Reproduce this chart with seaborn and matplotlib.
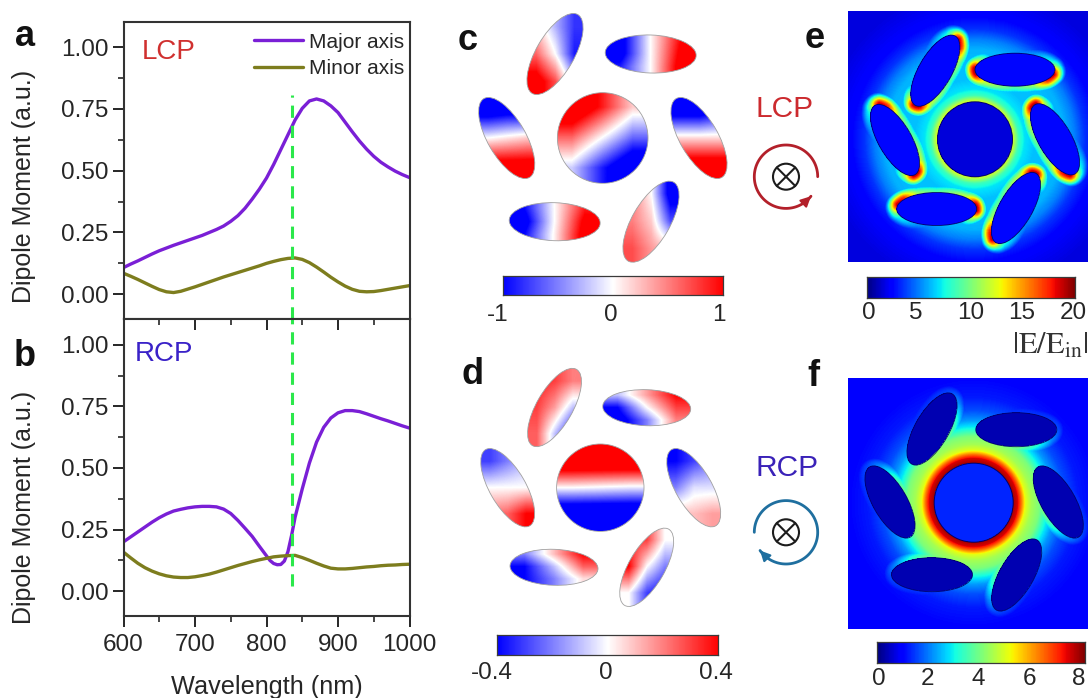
import numpy as np
import pandas as pd
import matplotlib
matplotlib.use("Agg")
import matplotlib.pyplot as plt
from matplotlib.patches import Ellipse, Circle
import seaborn as sns

# panel a, b curves, one value every 10 nm
wl = list(range(600, 1001, 10))
a_major = [.108, .122, .135, .149, .163, .176, .187, .198, .208, .218, .228, .238, .250, .262, .276, .295, .318, .348, .385, .425, .470,
           .525, .585, .645, .705, .752, .782, .790, .782, .762, .735, .696, .657, .620, .587, .558, .534, .515, .498, .484, .472]
a_minor = [.085, .073, .060, .046, .032, .019, .010, .007, .012, .021, .030, .040, .050, .060, .070, .079, .088, .097, .106, .115, .125,
           .133, .140, .145, .147, .141, .128, .110, .090, .069, .050, .033, .020, .012, .010, .011, .015, .020, .025, .030, .035]
wl_b_major = [600, 610, 620, 630, 640, 650, 660, 670, 680, 690, 700, 710, 720, 730, 740, 750, 760, 770, 780, 790, 800, 805, 810, 815, 820,
              825, 830, 835, 840, 850, 860, 870, 880, 890, 900, 910, 920, 930, 940, 950, 960, 970, 980, 990, 1000]
b_major = [.200, .220, .240, .260, .280, .298, .313, .325, .332, .338, .342, .344, .344, .342, .333, .315, .287, .255, .222, .182, .143, .124, .112, .107, .108,
           .122, .160, .225, .300, .415, .520, .605, .665, .703, .724, .733, .733, .729, .720, .710, .700, .691, .681, .671, .662]
b_minor = [.158, .135, .113, .095, .081, .070, .062, .057, .055, .055, .058, .063, .069, .077, .086, .095, .104, .112, .120, .127, .133,
           .139, .142, .144, .145, .136, .125, .113, .102, .093, .090, .090, .092, .095, .098, .100, .103, .105, .106, .108, .109]

marker_wl = 835

# surface charge maps, coarse value grids (rows top to bottom)
c_circle = [[1.5, 0.9, 0.2], [0.6, 0.0, -0.6], [-0.2, -0.9, -1.5]]
c_tl = [[0.2, -0.3, -0.8], [0.6, 0.0, -0.9], [1.2, 0.7, -0.3]]
c_tr = [[-1.2, 0.0, 1.0], [-1.2, 0.0, 1.1], [-0.9, 0.0, 1.2]]
c_r = [[-1.3, -1.3, -1.0], [0.15, 0.15, 0.15], [1.3, 1.3, 1.3]]
c_l = [[-1.3, -1.2, -1.2], [0.0, 0.1, 0.2], [1.2, 1.2, 1.2]]
c_bl = [[-1.0, 0.0, 0.9], [-1.2, 0.0, 1.1], [-1.0, 0.05, 1.2]]
c_br = [[0.5, 0.0, -1.2], [0.5, 0.2, -0.7], [0.7, 0.4, 0.2]]

d_circle = [[0.7, 0.7, 0.7], [0.02, 0.0, -0.02], [-0.7, -0.7, -0.7]]
d_tl = [[0.35, 0.3, 0.2], [0.3, 0.15, -0.1], [0.25, -0.1, -0.4]]
d_tr = [[-0.1, 0.15, 0.4], [-0.4, 0.0, 0.3], [-0.5, -0.2, 0.2]]
d_r = [[-0.4, -0.3, -0.2], [-0.2, -0.05, -0.05], [0.1, 0.1, 0.15]]
d_l = [[-0.3, -0.2, -0.1], [0.0, 0.0, 0.0], [0.2, 0.25, 0.4]]
d_bl = [[-0.2, 0.1, 0.4], [-0.4, -0.1, 0.25], [-0.4, -0.2, 0.05]]
d_br = [[0.3, 0.3, 0.0], [0.4, 0.0, -0.2], [0.0, -0.3, -0.4]]

# near field maps: value on the rim of an ellipse (by angle) and around the disk (by radius)
rim_deg = [0, 20, 60, 90, 130, 160, 175, 195, 220, 270, 300, 325, 345, 360]
e_rim = [12, 8, 5.5, 5, 6, 13, 19, 19, 12, 9, 11, 18, 19, 12]
f_rim = [1.6, 1.5, 1.4, 1.4, 1.5, 1.8, 2.2, 3, 3.6, 4.0, 3.2, 2.2, 1.8, 1.6]
e_radius = [37, 40, 44, 50, 60, 75, 90, 100, 110, 125, 150, 400]
e_radial = [12.5, 11, 8.5, 7, 6.3, 6.3, 6, 5, 3.5, 2.3, 1.7, 1.6]
f_radius = [39, 44, 48, 52, 58, 66, 74, 82, 92, 105, 125, 400]
f_radial = [7.8, 7.4, 6.3, 5.0, 4.4, 4.0, 3.0, 2.2, 1.6, 1.2, 1.0, 0.85]

sns.set_theme(style="ticks")
plt.rcParams["font.family"] = ["Liberation Sans", "DejaVu Sans"]
plt.rcParams["mathtext.fontset"] = "stix"

W, H = 1088, 698
fig = plt.figure(figsize=(W / 100, H / 100), dpi=100, facecolor="white")


def px_axes(x0, y0, x1, y1):
    return fig.add_axes([x0 / W, 1 - y1 / H, (x1 - x0) / W, (y1 - y0) / H])


PURPLE = "#7a1fd6"
OLIVE = "#7d7d1e"
GREEN = "#2be84b"
INK = "#262626"


def curves(ax, wl1, v1, wl2, v2, top, label_y):
    df = pd.concat([
        pd.DataFrame({"wl": wl1, "v": v1, "s": "Major axis"}),
        pd.DataFrame({"wl": wl2, "v": v2, "s": "Minor axis"}),
    ])
    sns.lineplot(data=df, x="wl", y="v", hue="s", palette=[PURPLE, OLIVE], lw=2.4,
                 errorbar=None, legend=False, ax=ax)
    ax.set_xlim(600, 1000)
    ax.set_ylim(-0.1, top)
    ax.set_yticks([0, .25, .5, .75, 1.0])
    ax.set_yticklabels(["0.00", "0.25", "0.50", "0.75", "1.00"])
    ax.set_yticks([.125, .375, .625, .875], minor=True)
    ax.set_xticks([600, 700, 800, 900, 1000])
    ax.set_xticks([650, 750, 850, 950], minor=True)
    ax.tick_params(axis="y", which="major", length=8, width=1.4, labelsize=17.5, colors=INK, pad=3)
    ax.tick_params(axis="y", which="minor", length=4, width=1.2, color=INK)
    ax.set_ylabel("Dipole Moment (a.u.)", fontsize=18, color=INK)
    ax.yaxis.set_label_coords(-0.305, label_y)
    for s in ax.spines.values():
        s.set_linewidth(1.5)
        s.set_color("#333333")


ax_a = px_axes(123.5, 22.3, 409.5, 319)
curves(ax_a, wl, a_major, wl, a_minor, 1.1, 0.447)
ax_a.tick_params(axis="x", which="both", bottom=False, labelbottom=False)
ax_a.set_xlabel("")
ax_a.vlines(marker_wl, -0.1, 0.805, color=GREEN, lw=2.2, linestyles=(0, (4, 2.6)))
handles = [plt.Line2D([], [], color=PURPLE, lw=2.4), plt.Line2D([], [], color=OLIVE, lw=2.4)]
ax_a.legend(handles, ["Major axis", "Minor axis"], loc="upper right", frameon=False, fontsize=15,
            handlelength=2.35, handletextpad=0.3, labelspacing=0.34, borderaxespad=0.1,
            bbox_to_anchor=(1.018, 1.0), labelcolor=INK)

ax_b = px_axes(123.5, 319, 409.5, 615.7)
curves(ax_b, wl_b_major, b_major, wl, b_minor, 1.105, 0.365)
ax_b.tick_params(axis="x", which="major", top=True, direction="out", length=8, width=1.4, labelsize=17.5, colors=INK, pad=5)
ax_b.tick_params(axis="x", which="minor", top=True, length=4, width=1.2, color=INK)
ax_b.vlines(marker_wl, 0.02, 1.105, color=GREEN, lw=2.2, linestyles=(0, (4, 2.6)))
ax_b.set_xlabel("Wavelength (nm)", fontsize=18.2, color=INK, labelpad=14)
# top ticks of panel b point down into the box
for t in ax_b.xaxis.get_major_ticks() + ax_b.xaxis.get_minor_ticks():
    t.tick2line.set_marker(matplotlib.markers.TICKDOWN)

# overlay in picture pixels for the schematic parts
ov = fig.add_axes([0, 0, 1, 1], facecolor="none")
ov.set_axis_off()


def charge_ellipse(cx, cy, a, b, ang, grid, vmax):
    e = Ellipse((cx, cy), 2 * a, 2 * b, angle=-ang, fc="none", ec="#a0a0a0", lw=0.6, zorder=3)
    ov.add_patch(e)
    t = np.deg2rad(ang)
    w = np.hypot(a * np.cos(t), b * np.sin(t))
    h = np.hypot(a * np.sin(t), b * np.cos(t))
    im = ov.imshow(grid, extent=(cx - w, cx + w, cy + h, cy - h), cmap="bwr", vmin=-vmax, vmax=vmax,
                   interpolation="bilinear", aspect="auto", zorder=2)
    im.set_clip_path(e)


A, B = 45.5, 19
charge_ellipse(602.7, 138, 45.3, 45.3, 0, c_circle, 1)
charge_ellipse(555, 54, A, B, 60, c_tl, 1)
charge_ellipse(650.7, 54, A, B, -2, c_tr, 1)
charge_ellipse(699, 138, A, B, -60, c_r, 1)
charge_ellipse(506.7, 138, A, B, -60, c_l, 1)
charge_ellipse(554.7, 221.7, A, B, -2, c_bl, 1)
charge_ellipse(651, 221.7, A, B, 60, c_br, 1)

A, B = 44, 18
charge_ellipse(600.3, 487.7, 43.7, 43.7, 0, d_circle, 0.4)
charge_ellipse(554.5, 407.5, A, B, 60, d_tl, 0.4)
charge_ellipse(646.7, 407.7, A, B, -2, d_tr, 0.4)
charge_ellipse(693.7, 487.7, A, B, -60, d_r, 0.4)
charge_ellipse(507.7, 487.7, A, B, -60, d_l, 0.4)
charge_ellipse(554, 567.3, A, B, -2, d_bl, 0.4)
charge_ellipse(646.7, 567.3, A, B, 60, d_br, 0.4)


def near_field(box, disk, rd, centers, frames, a, b, rim, radius, radial, sigma, vmax, inner_disk, inner_ell):
    x0, y0, x1, y1 = box
    xs = np.arange(x0, x1, 1.0) + 0.5
    ys = np.arange(y0, y1, 1.0) + 0.5
    X, Y = np.meshgrid(xs, ys)
    F = np.interp(np.hypot(X - disk[0], Y - disk[1]), radius, radial)
    glow = np.zeros_like(F)
    inside = np.zeros_like(F, dtype=bool)
    for (cx, cy), fr in zip(centers, frames):
        th = np.deg2rad(fr)
        for deg in np.arange(0, 360, 4):
            t = np.deg2rad(deg)
            px = cx + a * np.cos(t) * np.cos(th) - b * np.sin(t) * np.sin(th)
            py = cy - (a * np.cos(t) * np.sin(th) + b * np.sin(t) * np.cos(th))
            d = np.hypot(X - px, Y - py)
            glow = np.maximum(glow, np.interp(deg, rim_deg, rim) * np.exp(-(d / sigma) ** 2))
        dx, dy = X - cx, -(Y - cy)
        u = dx * np.cos(th) + dy * np.sin(th)
        v = -dx * np.sin(th) + dy * np.cos(th)
        inside |= (u / a) ** 2 + (v / b) ** 2 <= 1
    F = np.maximum(F, glow)
    F[inside] = inner_ell
    F[np.hypot(X - disk[0], Y - disk[1]) <= rd] = inner_disk
    ov.imshow(F, extent=(x0, x1, y1, y0), cmap="jet", vmin=0, vmax=vmax, interpolation="bilinear",
              aspect="auto", zorder=2)
    ov.add_patch(Circle(disk, rd, fc="none", ec="#00006a", lw=0.7, zorder=3))
    for (cx, cy), fr in zip(centers, frames):
        ov.add_patch(Ellipse((cx, cy), 2 * a, 2 * b, angle=-fr, fc="none", ec="#00006a", lw=0.6, zorder=3))


frames = [0, 60, 120, 180, 240, 300]
near_field((848.3, 11, 1088, 262), (975, 139.3), 37.5,
           [(1015, 69.7), (935.3, 70.7), (895, 140), (936.7, 209), (1016, 208), (1055, 139.3)],
           frames, 40, 16.5, e_rim, e_radius, e_radial, 9.5, 20, 1.6, 2.6)
near_field((848.3, 378.3, 1088, 629.3), (973.7, 502.7), 39.5,
           [(1016.3, 429.7), (932, 429), (890, 502), (932, 574.7), (1016.7, 575), (1058.3, 502)],
           frames, 40.5, 17, f_rim, f_radius, f_radial, 11, 8, 1.3, 0.35)


def rotation_mark(cx, cy, col, start, stop):
    # arc with an arrow head, crossed circle in the middle
    r = 31.7
    t = np.deg2rad(np.linspace(start, stop, 120))
    ax_, ay_ = cx + r * np.cos(t), cy - r * np.sin(t)
    ov.plot(ax_, ay_, color=col, lw=2.0, zorder=4, solid_capstyle="round")
    ov.annotate("", xy=(ax_[-1], ay_[-1]), xytext=(ax_[-7], ay_[-7]), zorder=4,
                arrowprops=dict(arrowstyle="-|>", color=col, lw=1.5, mutation_scale=15,
                                shrinkA=0, shrinkB=0))
    ov.add_patch(Circle((cx, cy), 13, fc="none", ec="#1c1c1c", lw=1.5, zorder=4))
    k = 13 * np.cos(np.pi / 4)
    ov.plot([cx - k, cx + k], [cy - k, cy + k], color="#1c1c1c", lw=1.5, zorder=4)
    ov.plot([cx - k, cx + k], [cy + k, cy - k], color="#1c1c1c", lw=1.5, zorder=4)


rotation_mark(786, 176.7, "#b3202a", 0, 322)
rotation_mark(786, 532.3, "#1f6f9f", 180, -145)


def colorbar(x0, y0, x1, y1, cmap, positions):
    ax = px_axes(x0, y0, x1, y1)
    vals = np.linspace(0, 1, 256)[None, :]
    sns.heatmap(vals, cmap=cmap, vmin=0, vmax=1, cbar=False, xticklabels=False, yticklabels=False, ax=ax)
    ax.set_xticks([p * 256 for p in positions])
    ax.set_xticklabels([])
    ax.tick_params(axis="x", length=2, width=0.6, color="#555555", direction="in", top=True, bottom=True)
    for s in ax.spines.values():
        s.set_visible(True)
        s.set_linewidth(0.9)
        s.set_color("#3a3a3a")


colorbar(502.7, 275.7, 723.3, 295, "bwr", [.25, .5, .75])
colorbar(497.3, 635, 718.3, 655, "bwr", [.25, .5, .75])
colorbar(866.7, 277, 1075, 297.7, "jet", [.25, .5, .75])
colorbar(877.3, 642.3, 1085, 662.7, "jet", [.25, .5, .75])

tick_texts = [
    ("-1", 498, 315), ("0", 610.7, 315), ("1", 719, 315),
    ("-0.4", 492, 673), ("0", 605.7, 673), ("0.4", 715.7, 673),
    ("0", 869, 313), ("5", 915.7, 313), ("10", 970.7, 313), ("15", 1021.7, 313), ("20", 1073, 313),
    ("0", 879, 679), ("2", 928, 679), ("4", 978, 679), ("6", 1030, 679), ("8", 1079, 679),
]
for s, x, y in tick_texts:
    ov.text(x, y, s, fontsize=17.5, color=INK, ha="center", va="center", zorder=5)
ov.text(1050, 346, r"$|\mathrm{E/E_{in}}|$", fontsize=22, color="#333333", ha="center", va="center", zorder=5)

labels = [("a", 25, 37), ("b", 25, 357), ("c", 468, 40), ("d", 473, 374), ("e", 815, 38), ("f", 813, 376)]
for s, x, y in labels:
    ov.text(x, y, s, fontsize=26, fontweight="bold", color="#111111", ha="center", va="center", zorder=5)

ov.text(169, 52, "LCP", fontsize=20, color="#d0302f", ha="center", va="center", zorder=5)
ov.text(164, 354, "RCP", fontsize=20, color="#3a22c8", ha="center", va="center", zorder=5)
ov.text(785, 109, "LCP", fontsize=21.5, color="#cc2a2e", ha="center", va="center", zorder=5)
ov.text(786.7, 468, "RCP", fontsize=21.5, color="#3a22b8", ha="center", va="center", zorder=5)

ov.set_xlim(0, W)
ov.set_ylim(H, 0)

fig.savefig("out.png", dpi=100)
